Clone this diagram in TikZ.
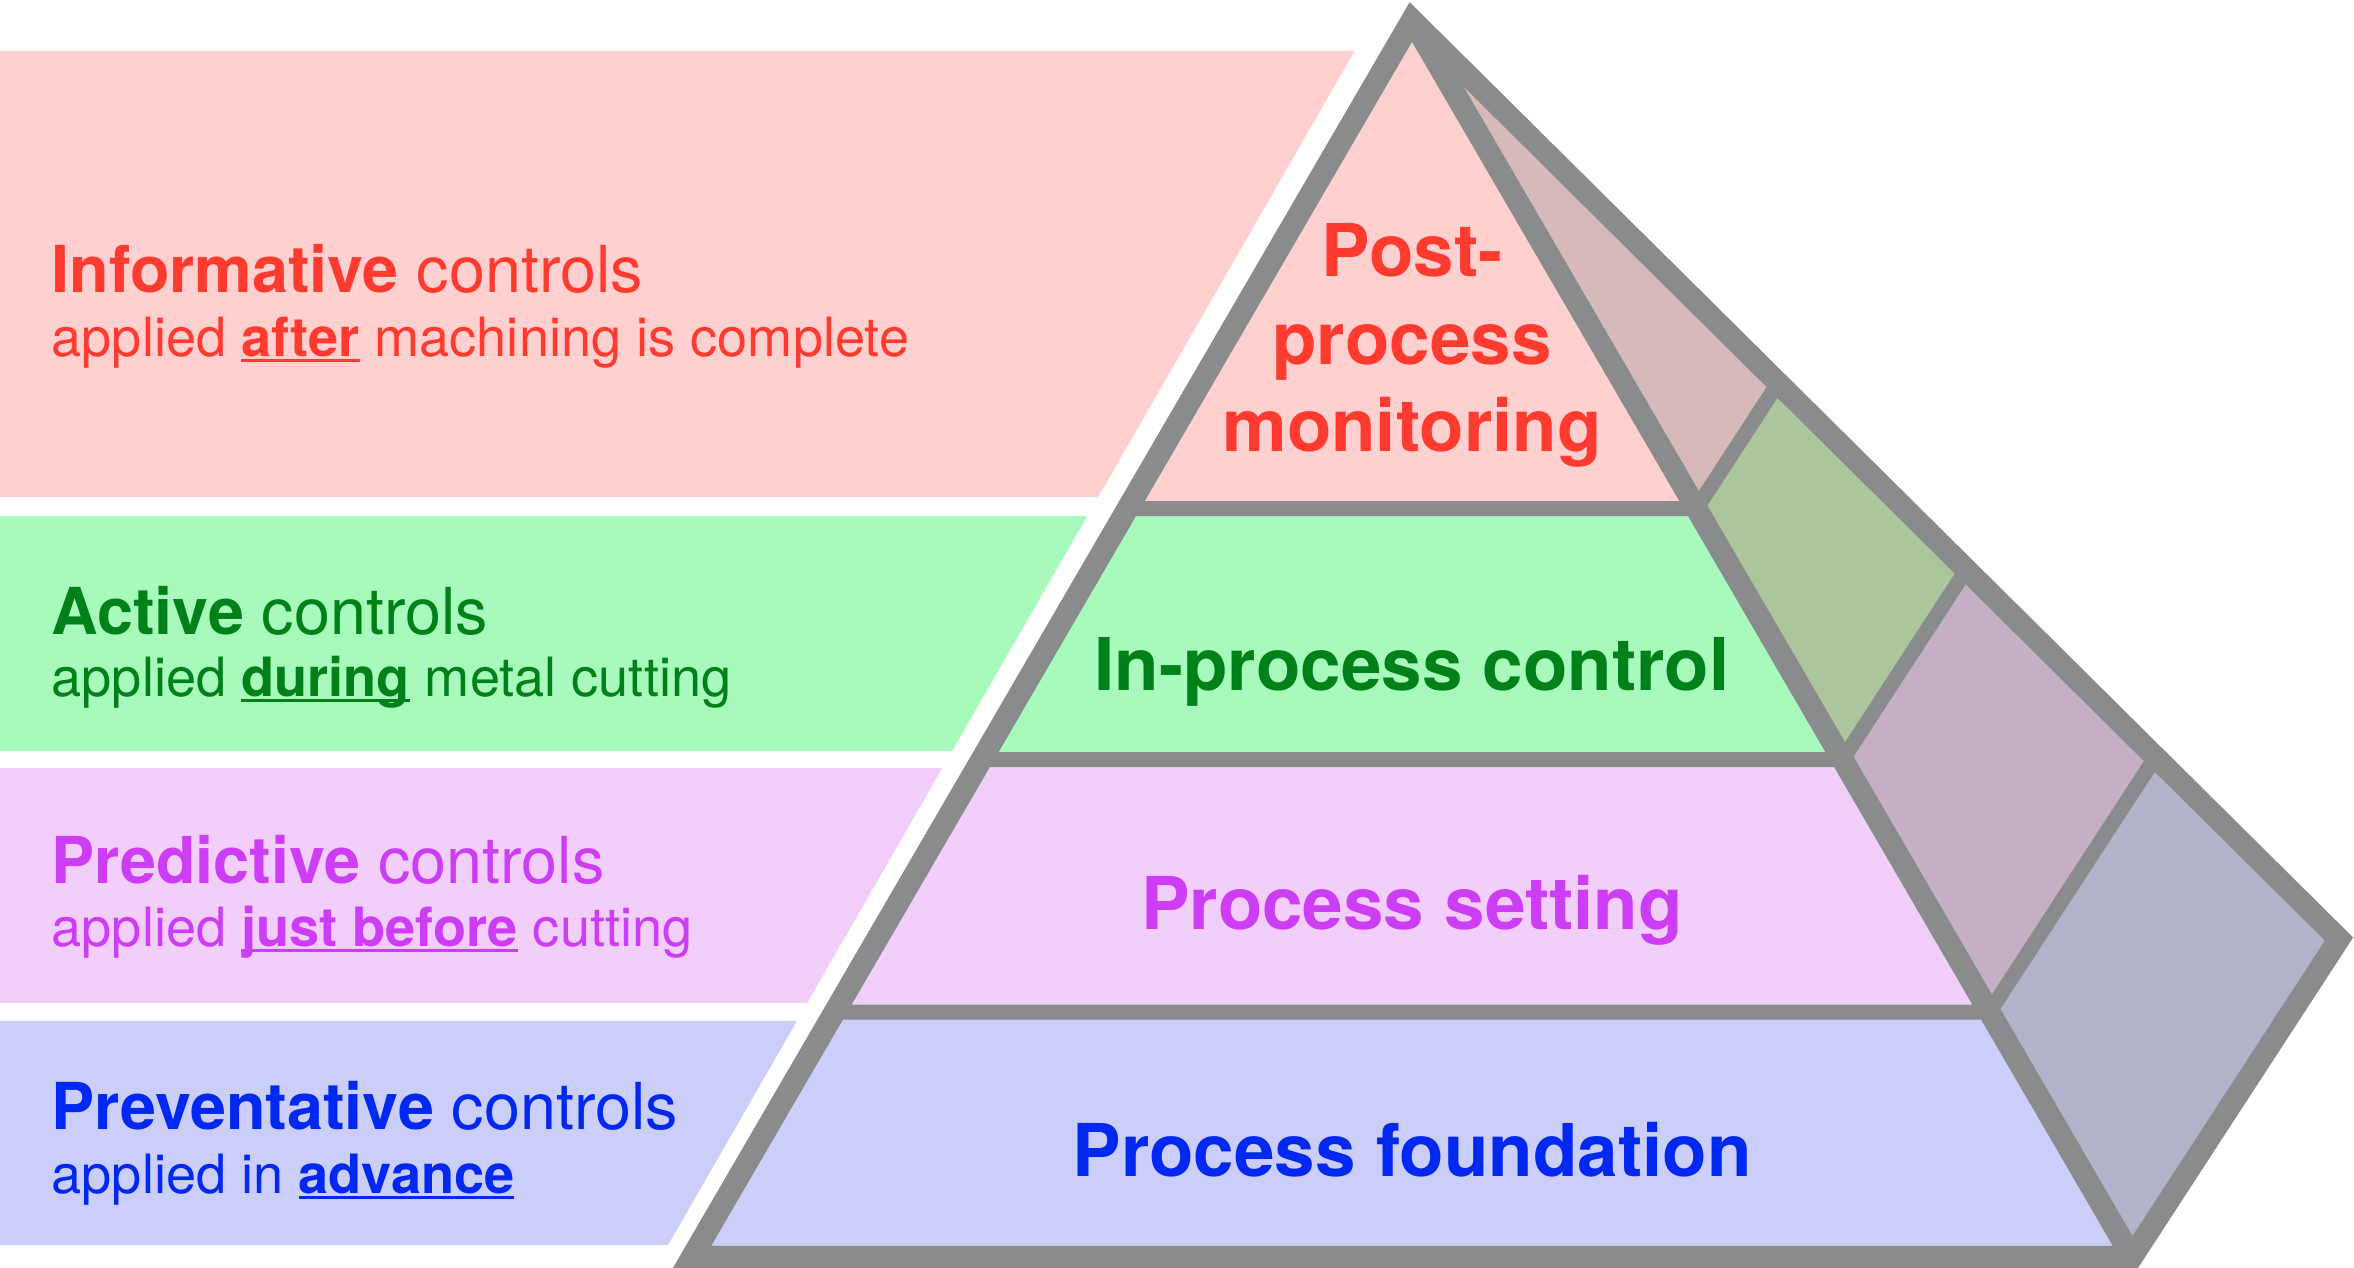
\documentclass[tikz,border=0pt]{standalone}
\usepackage{fontspec}
\setmainfont{TeX Gyre Heros}
\usetikzlibrary{calc}

\definecolor{edgegray}{RGB}{138,139,140}
\definecolor{infofill}{RGB}{255,208,208}
\definecolor{activefill}{RGB}{168,250,188}
\definecolor{predfill}{RGB}{242,207,250}
\definecolor{prevfill}{RGB}{204,206,250}
\definecolor{infoside}{RGB}{214,185,185}
\definecolor{activeside}{RGB}{171,198,157}
\definecolor{predside}{RGB}{197,175,197}
\definecolor{prevside}{RGB}{178,178,202}
\definecolor{infotext}{RGB}{255,59,48}
\definecolor{activetext}{RGB}{0,128,24}
\definecolor{predtext}{RGB}{204,61,245}
\definecolor{prevtext}{RGB}{0,40,240}

% bold word with a flat underline
\newcommand{\keyword}[1]{\setbox0=\hbox{\bfseries #1}\rlap{\rule[-1.5pt]{\wd0}{0.8pt}}\box0\relax}

\tikzset{
  heading/.style={anchor=base west, inner sep=0pt, font=\fontsize{18.4}{22}\selectfont},
  subline/.style={anchor=base west, inner sep=0pt, font=\fontsize{15.4}{18}\selectfont},
  level/.style={anchor=base, inner sep=0pt, align=center, font=\fontsize{20.7}{25}\selectfont\bfseries},
  thickedge/.style={draw=edgegray, line width=0.22cm, line join=miter},
  thinedge/.style={draw=edgegray, line width=0.15cm},
}

\begin{document}
\begin{tikzpicture}[x=0.01cm, y=-0.01cm]
\useasboundingbox (0,0) rectangle (2354,1268);

% bands on the left
\foreach \ya/\yb/\col in {51/497/infofill, 516/751/activefill, 768/1003/predfill, 1021/1245/prevfill}
  \fill[\col] (0,\ya) -- ({1384-0.575*\ya},\ya) -- ({1384-0.575*\yb},\yb) -- (0,\yb) -- cycle;

% pyramid corners
\coordinate (apex) at (1412,20);
\coordinate (bl) at (692,1257);
\coordinate (br) at (2132,1257);
\coordinate (rt) at (2339,939);

\foreach \t [count=\i] in {0.395,0.598,0.802} {
  \coordinate (l\i) at ($(apex)!\t!(bl)$);
  \coordinate (f\i) at ($(apex)!\t!(br)$);
  \coordinate (s\i) at ($(apex)!\t!(rt)$);
}

% front face
\fill[infofill] (apex) -- (l1) -- (f1) -- cycle;
\fill[activefill] (l1) -- (l2) -- (f2) -- (f1) -- cycle;
\fill[predfill] (l2) -- (l3) -- (f3) -- (f2) -- cycle;
\fill[prevfill] (l3) -- (bl) -- (br) -- (f3) -- cycle;
% side face
\fill[infoside] (apex) -- (f1) -- (s1) -- cycle;
\fill[activeside] (f1) -- (f2) -- (s2) -- (s1) -- cycle;
\fill[predside] (f2) -- (f3) -- (s3) -- (s2) -- cycle;
\fill[prevside] (f3) -- (br) -- (rt) -- (s3) -- cycle;

\foreach \i in {1,2,3} \draw[thinedge] (l\i) -- (f\i) -- (s\i);
\draw[thickedge] (apex) -- (bl) -- (br) -- (rt) -- cycle;
\draw[thickedge] (apex) -- (br);

% texts on the left
\node[heading, infotext] (info) at (51,293) {\textbf{Informative} controls};
\node[subline, infotext] (infosub) at (51,357) {applied \keyword{after} machining is complete};
\node[heading, activetext] (active) at (51,635) {\textbf{Active} controls};
\node[subline, activetext] (activesub) at (51,697) {applied \keyword{during} metal cutting};
\node[heading, predtext] (pred) at (51,884) {\textbf{Predictive} controls};
\node[subline, predtext] (predsub) at (51,947) {applied \keyword{just before} cutting};
\node[heading, prevtext] (prev) at (51,1130) {\textbf{Preventative} controls};
\node[subline, prevtext] (prevsub) at (51,1194) {applied in \keyword{advance}};

% texts in the pyramid
\node[level, infotext] (post) at (1412,452) {Post-\\process\\monitoring};
\node[level, activetext] (inproc) at (1412,691) {In-process control};
\node[level, predtext] (setting) at (1412,930) {Process setting};
\node[level, prevtext] (found) at (1412,1177) {Process foundation};

\end{tikzpicture}
\end{document}
